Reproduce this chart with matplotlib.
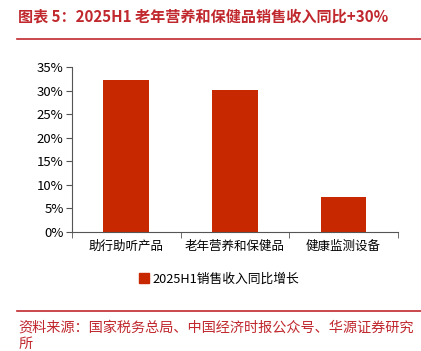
import matplotlib
matplotlib.use("Agg")
import matplotlib.pyplot as plt
from matplotlib.lines import Line2D
from matplotlib.patches import Patch
from matplotlib.ticker import FuncFormatter, FixedLocator

plt.rcParams["font.family"] = ["Noto Sans CJK SC", "DejaVu Sans"]

categories = ["助行助听产品", "老年营养和保健品", "健康监测设备"]
growth = [32.2, 30.1, 7.5]
series_name = "2025H1销售收入同比增长"
title = "图表 5：2025H1 老年营养和保健品销售收入同比+30%"
source = "资料来源：国家税务总局、中国经济时报公众号、华源证券研究\n所"

BAR = "#C82800"
RED = "#C0282E"

fig = plt.figure(figsize=(4.21, 3.51), dpi=100)
ax = fig.add_axes([0.171, 0.339, 0.774, 0.470])

x = range(len(categories))
ax.bar(x, growth, width=0.42, color=BAR)
ax.set_xlim(-0.5, len(categories) - 0.5)
ax.set_ylim(0, 35)
ax.set_yticks(range(0, 36, 5))
ax.yaxis.set_major_formatter(FuncFormatter(lambda v, _: f"{v:.0f}%"))
ax.set_xticks(list(x))
ax.set_xticklabels(categories, fontsize=9)
ax.xaxis.set_minor_locator(FixedLocator([-0.5, 0.5, 1.5, 2.5]))
ax.tick_params(axis="x", which="major", length=0, pad=6)
ax.tick_params(axis="x", which="minor", length=4, direction="out", color="#555555")
ax.tick_params(axis="y", labelsize=9.5, length=4, color="#555555", pad=2)
for s in ("top", "right"):
    ax.spines[s].set_visible(False)
for s in ("left", "bottom"):
    ax.spines[s].set_color("#555555")

fig.legend(handles=[Patch(color=BAR, label=series_name)], loc="center",
           bbox_to_anchor=(0.52, 0.205), frameon=False, fontsize=9.2,
           handlelength=0.8, handleheight=0.8, handletextpad=0.3)

fig.text(0.043, 0.953, title, fontsize=10.9, fontweight="bold", color=RED,
         va="center", ha="left")
fig.add_artist(Line2D([0.04, 1.0], [0.889, 0.889], color=RED, lw=1.2))
fig.add_artist(Line2D([0.04, 1.0], [0.114, 0.114], color=RED, lw=1.2))
fig.text(0.043, 0.088, source, fontsize=10.2, color=RED, va="top", ha="left",
         linespacing=1.3)

fig.savefig("out.png", dpi=100)
